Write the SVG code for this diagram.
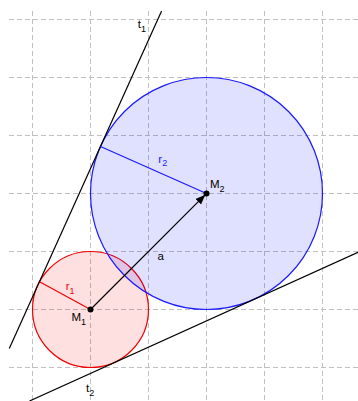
<svg xmlns="http://www.w3.org/2000/svg" width="358" height="401" viewBox="0 0 358 401">
<style>
.grid{stroke:#c0c0c0;stroke-width:1;stroke-dasharray:5,3;fill:none}
.ln{stroke:#000;stroke-width:1.2;fill:none}
text{font-family:"Liberation Sans",Arial,sans-serif;font-size:11.5px;fill:#000}
.sub{font-size:9px}
</style>
<defs>
<marker id="ah" markerUnits="userSpaceOnUse" markerWidth="12" markerHeight="10" refX="10" refY="4" orient="auto">
<path d="M0,0 L10,4 L0,8 Z" fill="#000"/>
</marker>
</defs>
<rect width="358" height="401" fill="#fff"/>
<g id="grid">
<path class="grid" d="M32.5,11V401M90.5,11V401M148.5,11V401M206.5,11V401M264.5,11V401M322.5,11V401"/>
<path class="grid" d="M9,19.5H358M9,77.5H358M9,135.5H358M9,193.5H358M9,251.5H358M9,309.5H358M9,367.5H358"/>
</g>
<g id="c1">
<circle cx="90.5" cy="309.5" r="58" fill="#ff0000" fill-opacity="0.12" stroke="#f00000" stroke-width="1.2"/>
</g>
<g id="c2">
<circle cx="206.5" cy="193.5" r="116" fill="#0000ff" fill-opacity="0.12" stroke="#1a1aff" stroke-width="1.2"/>
</g>
<g id="connectors">
<line id="t1" class="ln" x1="9.3" y1="348.5" x2="161.6" y2="11"/>
<line id="t2" class="ln" x1="29.5" y1="401" x2="358" y2="252.3"/>
<line id="r1" x1="90.5" y1="309.5" x2="40" y2="282" stroke="#f00000" stroke-width="1.2"/>
<line id="r2" x1="206.5" y1="193.5" x2="100.5" y2="146.5" stroke="#1a1aff" stroke-width="1.2"/>
<line id="a" class="ln" x1="90.5" y1="309.5" x2="205.3" y2="194.7" marker-end="url(#ah)"/>
</g>
<g id="M1">
<circle cx="90.5" cy="309.5" r="3" fill="#000"/>
<text x="71.5" y="320.5">M<tspan class="sub" dy="4.5">1</tspan></text>
</g>
<g id="M2">
<circle cx="206.5" cy="193.5" r="3" fill="#000"/>
<text x="210" y="187.5">M<tspan class="sub" dy="4.5">2</tspan></text>
</g>
<g id="labels">
<text x="137.8" y="28.3">t<tspan class="sub" dy="4">1</tspan></text>
<text x="86" y="392.3">t<tspan class="sub" dy="3.6">2</tspan></text>
<text x="158.3" y="162.7" style="fill:#1a1aff">r<tspan class="sub" dy="3">2</tspan></text>
<text x="65.7" y="290" style="fill:#f00000">r<tspan class="sub" dy="4.3">1</tspan></text>
<text x="157.5" y="260">a</text>
</g>
</svg>
